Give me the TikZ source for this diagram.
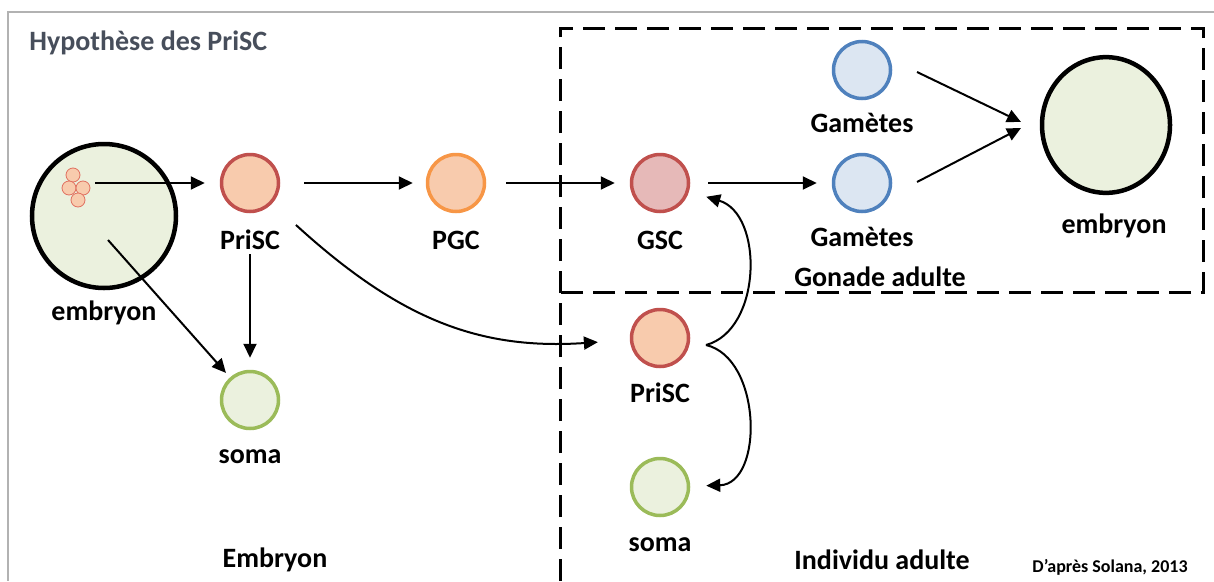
\documentclass[tikz,border=0pt]{standalone}
\usepackage{fontspec}
\setmainfont{Carlito}
\usepackage{xcolor}
\usetikzlibrary{arrows.meta}

\definecolor{priscfill}{HTML}{F8CBAD}
\definecolor{priscline}{HTML}{C0504D}
\definecolor{pgcline}{HTML}{F79646}
\definecolor{gscfill}{HTML}{E6B9B8}
\definecolor{gamfill}{HTML}{DCE6F2}
\definecolor{gamline}{HTML}{4F81BD}
\definecolor{somafill}{HTML}{EBF1DE}
\definecolor{somaline}{HTML}{9BBB59}
\definecolor{cellline}{HTML}{E07060}
\definecolor{titlegray}{HTML}{474E5B}

\begin{document}
\begin{tikzpicture}[x=1pt,y=-1pt,line width=2pt,
	>={Triangle[length=14pt,width=13pt]},
	cell/.style={circle,minimum size=57pt,inner sep=0pt,line width=3.5pt},
	egg/.style={circle,draw=black,fill=somafill,line width=4.5pt,inner sep=0pt},
	lab/.style={font=\fontsize{28}{30}\selectfont\bfseries},
	zone/.style={dash pattern=on 22pt off 10pt,line width=3pt}]

	\useasboundingbox (0,0) rectangle (1214,581);
	% frame
	\draw[gray!60,line width=1.5pt] (1214,12) -- (8,12) -- (8,581);
	\node[lab,text=titlegray,anchor=west] (title) at (25,43) {Hypothèse des PriSC};

	% zones
	\draw[zone] (560,581) -- (560,28) -- (1203,28) -- (1203,292) -- (560,292);

	% embryon
	\node[egg,minimum size=144pt] (egg1) at (104,216) {};
\node[circle,draw=cellline,fill=priscfill,line width=0.8pt,minimum size=14pt,inner sep=0pt] (c1) at (73,175) {};
\node[circle,draw=cellline,fill=priscfill,line width=0.8pt,minimum size=14pt,inner sep=0pt] (c2) at (69,188) {};
\node[circle,draw=cellline,fill=priscfill,line width=0.8pt,minimum size=14pt,inner sep=0pt] (c3) at (83,188) {};
\node[circle,draw=cellline,fill=priscfill,line width=0.8pt,minimum size=14pt,inner sep=0pt] (c4) at (78,200) {};
	\coordinate (cellout) at (95,183);
	\coordinate (egginner) at (108,240);
	\node[lab] (legg1) at (104,313) {embryon};

	% cells
	\node[cell,draw=priscline,fill=priscfill] (prisc1) at (250,183) {};
	\node[cell,draw=pgcline,fill=priscfill] (pgc) at (456,183) {};
	\node[cell,draw=priscline,fill=gscfill] (gsc) at (660,183) {};
	\node[cell,draw=gamline,fill=gamfill] (gam1) at (862,70) {};
	\node[cell,draw=gamline,fill=gamfill] (gam2) at (862,183) {};
	\node[egg,minimum size=128pt,yscale=1.06] (egg2) at (1106,125) {};
	\node[cell,draw=somaline,fill=somafill] (soma1) at (250,400) {};
	\node[cell,draw=priscline,fill=priscfill] (prisc2) at (660,338) {};
	\node[cell,draw=somaline,fill=somafill] (soma2) at (660,487) {};

	\node[lab] (lprisc1) at (250,240) {PriSC};
	\node[lab] (lpgc) at (456,240) {PGC};
	\node[lab] (lgsc) at (660,240) {GSC};
	\node[lab] (lgam1) at (862,123) {Gamètes};
	\node[lab] (lgam2) at (862,237) {Gamètes};
	\node[lab] (legg2) at (1114,226) {embryon};
	\node[lab] (lsoma1) at (250,457) {soma};
	\node[lab] (lprisc2) at (660,393) {PriSC};
	\node[lab] (lsoma2) at (660,545) {soma};

	\node[lab] (lgonade) at (880,277) {Gonade adulte};
	\node[lab] (lembryon) at (275,560) {Embryon};
	\node[lab] (ladulte) at (882,560) {Individu adulte};
	\node[font=\fontsize{18}{20}\selectfont\bfseries] (source) at (1110,567) {D’après Solana, 2013};

	% arrows
	\coordinate (g1out) at (917,72);
	\coordinate (g2out) at (917,182);
	\coordinate (meet1) at (1021,122);
	\coordinate (meet2) at (1021,128);
	\coordinate (fork) at (706,345);
	\draw[->,shorten >=15pt] (cellout) -- (prisc1);
	\draw[->,shorten <=24pt,shorten >=13pt] (prisc1) -- (pgc);
	\draw[->,shorten <=20pt,shorten >=15pt] (pgc) -- (gsc);
	\draw[->,shorten <=18pt,shorten >=15pt] (gsc) -- (gam2);
	\draw[->] (g1out) -- (meet1);
	\draw[->] (g2out) -- (meet2);
	\draw[->,shorten >=6pt] (egginner) -- (soma1);
	\draw[->,shorten >=12pt] (lprisc1) -- (soma1);
	\draw[->,shorten <=32pt,shorten >=32pt] (prisc1) .. controls (400,320) and (480,350) .. (prisc2);
	\draw[->,shorten >=18pt] (fork) .. controls (762,330) and (764,214) .. (gsc);
	\draw[->,shorten >=16pt] (fork) .. controls (762,358) and (764,484) .. (soma2);

\end{tikzpicture}
\end{document}
